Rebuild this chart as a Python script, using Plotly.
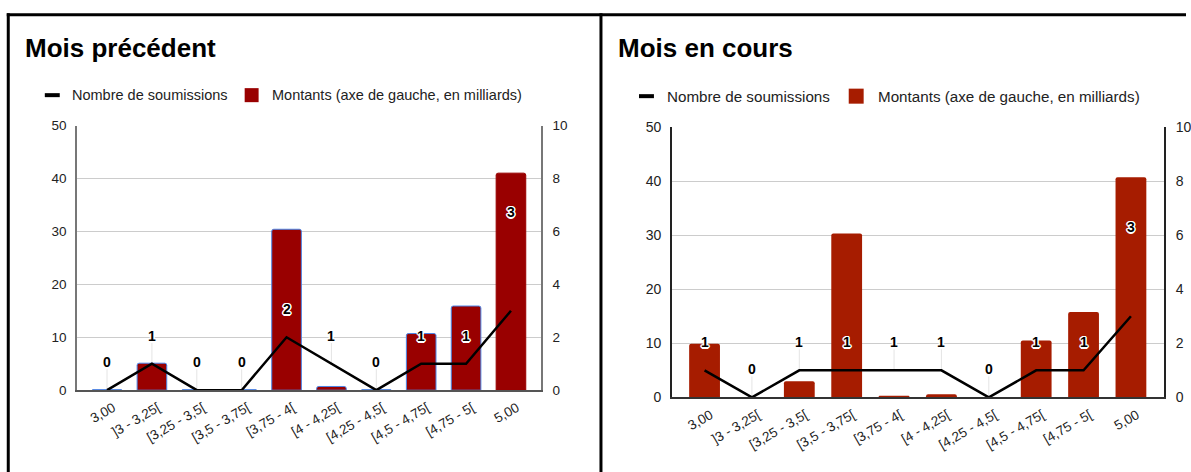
import plotly.graph_objects as go

# ---------------- data ----------------
categories = ["3,00", "]3 - 3,25[", "[3,25 - 3,5[", "[3,5 - 3,75[", "[3,75 - 4[",
              "[4 - 4,25[", "[4,25 - 4,5[", "[4,5 - 4,75[", "[4,75 - 5[", "5,00"]

prev_amounts = [0.1, 5.1, 0.1, 0.1, 30.4, 0.7, 0.1, 10.7, 15.9, 41.0]
prev_counts = [0, 1, 0, 0, 2, 1, 0, 1, 1, 3]

curr_amounts = [9.9, 0, 3.0, 30.3, 0.3, 0.6, 0, 10.5, 15.8, 40.7]
curr_counts = [1, 0, 1, 1, 1, 1, 0, 1, 1, 3]

title_prev = "Mois précédent"
title_curr = "Mois en cours"
legend_line = "Nombre de soumissions"
legend_bar = "Montants (axe de gauche, en milliards)"

# ---------------- helpers ----------------
W, H = 1191, 481          # figure size (page px); photographed into 1191x472
FONT = "Liberation Sans, Arial, sans-serif"
Y_OFF, Y_SCALE = 8.0, 0.965   # vertical calibration of the photographed page


def px(x):
    return x / W


def py(y):
    return 1 - ((y - Y_OFF) / Y_SCALE) / H


def vpx(d):
    return d / Y_SCALE


HALO = ("-1px -1px 0 #fff, 1px -1px 0 #fff, -1px 1px 0 #fff, 1px 1px 0 #fff, "
        "0 -1.5px 0 #fff, 0 1.5px 0 #fff, -1.5px 0 0 #fff, 1.5px 0 0 #fff")

fig = go.Figure()

# left panel
prev_outline = ["#4a86e8"] * (len(categories) - 1) + ["#990000"]
fig.add_trace(go.Bar(x=categories, y=prev_amounts, xaxis="x", yaxis="y", width=0.66,
                     marker=dict(color="#990000", line=dict(color=prev_outline, width=1),
                                 cornerradius=2),
                     showlegend=False, hoverinfo="skip"))
fig.add_trace(go.Scatter(x=categories, y=prev_counts, xaxis="x", yaxis="y2", mode="lines",
                         line=dict(color="black", width=2.5), showlegend=False))

# right panel
fig.add_trace(go.Bar(x=categories, y=curr_amounts, xaxis="x2", yaxis="y3", width=0.65,
                     marker=dict(color="#a61c00", line=dict(width=0), cornerradius=2),
                     showlegend=False, hoverinfo="skip"))
fig.add_trace(go.Scatter(x=categories, y=curr_counts, xaxis="x2", yaxis="y4", mode="lines",
                         line=dict(color="black", width=2.5), showlegend=False))

annotations = []
shapes = []


def add_labels(counts, xref, yref, top_shift):
    for i, c in enumerate(counts):
        shift = vpx(top_shift if i == len(counts) - 1 else 27)
        shapes.append(dict(type="line", xref=xref, yref=yref, x0=i, x1=i,
                           ysizemode="pixel", yanchor=c, y0=0, y1=shift - 7,
                           line=dict(color="#e4e4e4", width=1), layer="below"))
        annotations.append(dict(x=i, y=c, xref=xref, yref=yref, text=str(c),
                                showarrow=False, yshift=shift, xanchor="center",
                                yanchor="middle",
                                font=dict(family=FONT, size=14, color="black",
                                          weight="bold", shadow=HALO)))


add_labels(prev_counts, "x", "y2", 95)
add_labels(curr_counts, "x2", "y4", 86)


def add_header(title, x_title, x_mark, y_leg, x_text1, x_sq, sq_size, x_text2, leg_size,
               bar_color):
    annotations.append(dict(x=px(x_title), y=py(47.5), xref="paper", yref="paper",
                            text="<b>%s</b>" % title, showarrow=False, xanchor="left",
                            yanchor="middle", font=dict(family=FONT, size=26, color="black")))
    shapes.append(dict(type="line", xref="paper", yref="paper", x0=px(x_mark),
                       x1=px(x_mark + 15), y0=py(y_leg), y1=py(y_leg),
                       line=dict(color="black", width=4)))
    annotations.append(dict(x=px(x_text1), y=py(y_leg), xref="paper", yref="paper",
                            text=legend_line, showarrow=False, xanchor="left",
                            yanchor="middle", font=dict(family=FONT, size=leg_size, color="#222")))
    shapes.append(dict(type="rect", xref="paper", yref="paper", x0=px(x_sq),
                       x1=px(x_sq + sq_size), y0=py(y_leg - sq_size / 2),
                       y1=py(y_leg + sq_size / 2), fillcolor=bar_color,
                       line=dict(width=0)))
    annotations.append(dict(x=px(x_text2), y=py(y_leg), xref="paper", yref="paper",
                            text=legend_bar, showarrow=False, xanchor="left",
                            yanchor="middle", font=dict(family=FONT, size=leg_size, color="#222")))


add_header(title_prev, 22.7, 45, 95, 70, 245.7, 14, 270.7, 14.5, "#990000")
add_header(title_curr, 618.3, 641.7, 96, 668.3, 852.3, 15, 879.3, 15.2, "#a61c00")

# frame lines
frame = dict(color="black", width=3)
shapes.append(dict(type="line", xref="paper", yref="paper", x0=px(6.8), x1=1.0,
                   y0=py(14.8), y1=py(14.8), line=frame))
shapes.append(dict(type="line", xref="paper", yref="paper", x0=px(8.3), x1=px(8.3),
                   y0=py(13.3), y1=0, line=frame))
shapes.append(dict(type="line", xref="paper", yref="paper", x0=px(603.5), x1=px(603.5),
                   y0=py(13.3), y1=0, line=frame))

tick_font = dict(family=FONT, size=13.5, color="#222")
x_font = dict(family=FONT, size=13.5, color="#222")

fig.update_layout(
    width=W, height=H, margin=dict(l=0, r=0, t=0, b=0),
    paper_bgcolor="white", plot_bgcolor="white",
    font=dict(family=FONT),
    showlegend=False, bargap=0.3,
    annotations=annotations, shapes=shapes,
    xaxis=dict(domain=[px(77.3), px(543.3)], anchor="y", type="category",
               range=[-0.67, 9.67], showgrid=False, showline=True, linecolor="#555",
               linewidth=1.5, tickangle=-30, tickfont=x_font, ticks="",
               ticklabelshift=6, ticklabelstandoff=3),
    yaxis=dict(domain=[py(389.5), py(125.3)], anchor="x", range=[0, 50], dtick=10,
               gridcolor="#cccccc", showline=True, linecolor="#777", linewidth=1.5,
               zeroline=False, tickfont=tick_font, ticks="", ticklabelstandoff=6),
    yaxis2=dict(overlaying="y", anchor="x", side="right", range=[0, 10], dtick=2,
                showgrid=False, showline=True, linecolor="#777", linewidth=1.5,
                zeroline=False, tickfont=tick_font, ticks="", ticklabelstandoff=7),
    xaxis2=dict(domain=[px(674.7), px(1169)], anchor="y3", type="category",
                range=[-0.69, 9.70], showgrid=False, showline=True, linecolor="#333",
                linewidth=1.5, tickangle=-30, tickfont=x_font, ticks="",
                ticklabelshift=6, ticklabelstandoff=3),
    yaxis3=dict(domain=[py(396.7), py(126.7)], anchor="x2", range=[0, 50], dtick=10,
                gridcolor="#cccccc", showline=True, linecolor="#222", linewidth=1.5,
                zeroline=False, tickfont=dict(family=FONT, size=14, color="#222"),
                ticks="", ticklabelstandoff=6),
    yaxis4=dict(overlaying="y3", anchor="x2", side="right", range=[0, 10], dtick=2,
                showgrid=False, showline=True, linecolor="#222", linewidth=1.5,
                zeroline=False, tickfont=dict(family=FONT, size=14, color="#222"),
                ticks="", ticklabelstandoff=7),
)

page_fix = (
    "var gd=document.getElementById('{plot_id}');"
    "gd.style.position='fixed';gd.style.top='0px';gd.style.left='0px';"
    "var de=document.documentElement, b=document.body;"
    "de.style.margin='0';de.style.padding='0';de.style.overflow='hidden';"
    "b.style.margin='0';b.style.padding='0';b.style.overflow='hidden';"
)

fig.write_html(
    "out.html",
    config={"responsive": False, "displayModeBar": False},
    post_script=page_fix,
)
